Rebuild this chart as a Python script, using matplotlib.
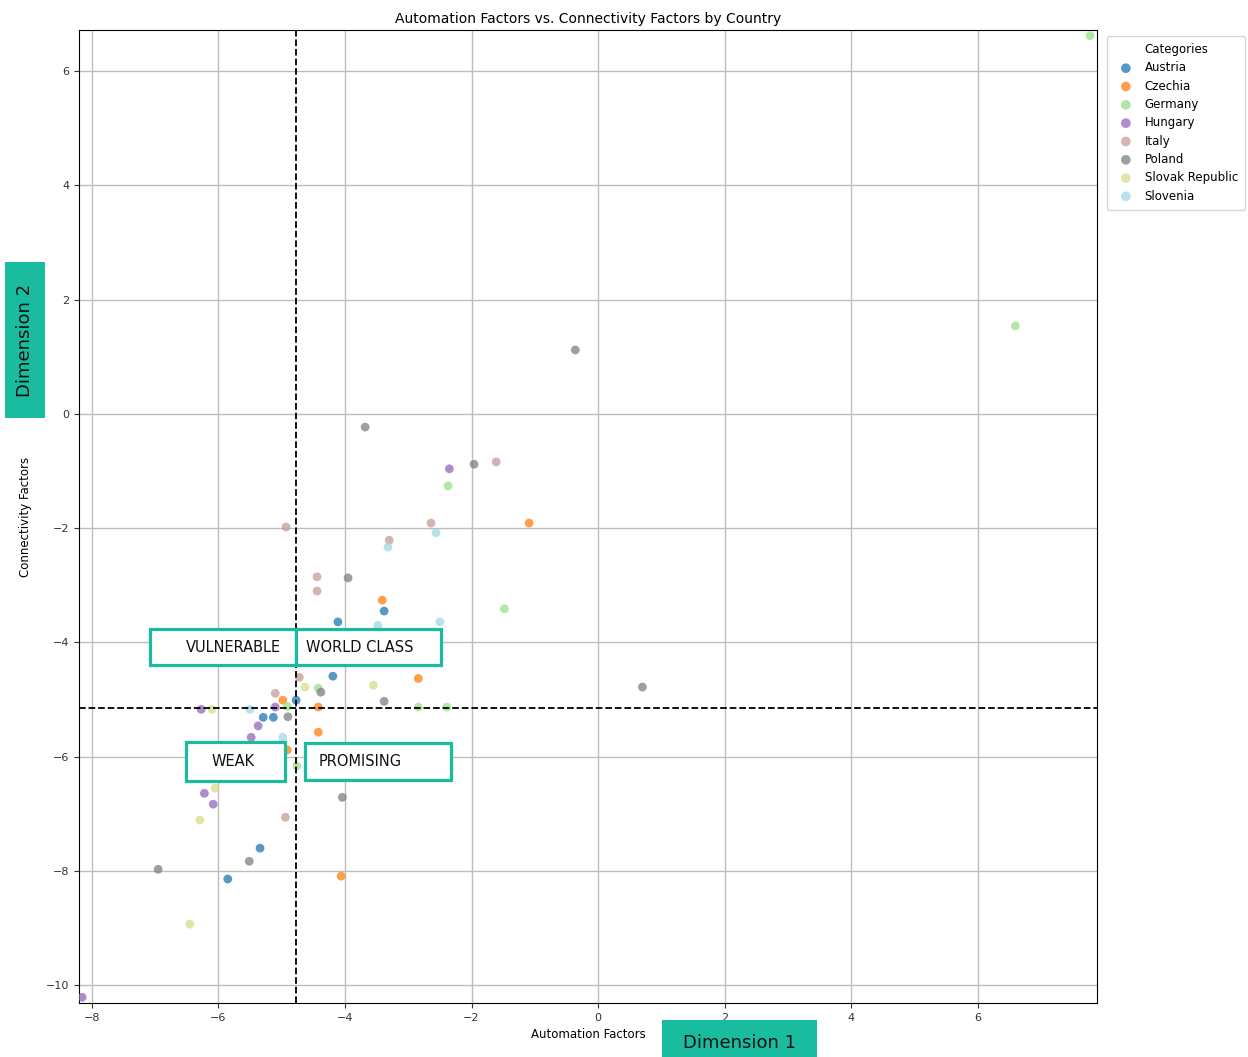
import numpy as np
import matplotlib
matplotlib.use("Agg")
import matplotlib.pyplot as plt
from matplotlib.patches import Rectangle

# -----------------------------
# DATA
# -----------------------------
countries = ["Austria", "Czechia", "Germany", "Hungary", "Italy",
             "Poland", "Slovak Republic", "Slovenia"]

austria_x = [-3.38, -4.11, -4.53, -4.19, -4.77, -5.29, -5.13, -5.97, -5.34, -5.85]
austria_y = [-3.45, -3.64, -4.26, -4.59, -5.01, -5.31, -5.31, -5.94, -7.60, -8.14]

czechia_x = [-1.09, -3.41, -2.84, -4.98, -4.42, -4.42, -4.91, -4.06, -4.82]
czechia_y = [-1.91, -3.26, -4.63, -5.01, -5.13, -5.57, -5.88, -8.09, -4.17]

germany_x = [7.77, 6.59, -2.37, -1.48, -4.42, -2.84, -2.39, -4.91, -4.76]
germany_y = [6.62, 1.54, -1.26, -3.41, -4.80, -5.13, -5.13, -5.12, -6.16]

hungary_x = [-2.35, -6.27, -5.10, -5.37, -5.48, -6.22, -6.08, -8.15]
hungary_y = [-0.96, -5.17, -5.13, -5.46, -5.66, -6.64, -6.83, -10.21]

italy_x = [-1.61, -4.93, -2.64, -3.30, -4.44, -4.44, -4.45, -5.10, -5.66, -4.94, -4.72]
italy_y = [-0.84, -1.98, -1.91, -2.21, -2.85, -3.10, -3.96, -4.89, -5.83, -7.06, -4.61]

poland_x = [-0.36, -3.68, -1.96, -3.95, 0.70, -4.38, -3.38, -4.90, -4.04, -5.51, -6.95]
poland_y = [1.12, -0.23, -0.88, -2.87, -4.78, -4.87, -5.03, -5.30, -6.71, -7.83, -7.97]

slovak_x = [-4.63, -3.55, -6.10, -5.42, -6.29, -6.45, -6.05, -5.92]
slovak_y = [-4.78, -4.75, -5.17, -5.85, -7.11, -8.93, -6.55, -6.35]

slovenia_x = [-2.56, -3.32, -2.50, -3.48, -5.50, -4.98]
slovenia_y = [-2.08, -2.33, -3.64, -3.70, -5.17, -5.66]

series_x = [austria_x, czechia_x, germany_x, hungary_x, italy_x, poland_x, slovak_x, slovenia_x]
series_y = [austria_y, czechia_y, germany_y, hungary_y, italy_y, poland_y, slovak_y, slovenia_y]

# quadrant split lines
x_split = -4.77
y_split = -5.15

# tab20 sampled at 8 even steps
colors = plt.get_cmap("tab20")(np.linspace(0, 1, 8))

# -----------------------------
# FIGURE
# -----------------------------
fig = plt.figure(figsize=(12.48, 10.57), dpi=100)
ax = fig.add_axes([0.0633, 0.0511, 0.8157, 0.9205])

for name, xs, ys, c in zip(countries, series_x, series_y, colors):
    ax.scatter(xs, ys, s=40, color=c, alpha=0.75, label=name, edgecolors="none", zorder=3)

ax.axvline(x_split, color="black", linestyle="--", linewidth=1.3, zorder=4)
ax.axhline(y_split, color="black", linestyle="--", linewidth=1.3, zorder=4)

ax.set_xlim(-8.2, 7.88)
ax.set_ylim(-10.31, 6.72)
ax.set_xticks(np.arange(-8, 7, 2))
ax.set_yticks(np.arange(-10, 7, 2))
ax.tick_params(labelsize=8, colors="#333333")
ax.grid(True, color="#bdbdbd", linewidth=1.0, zorder=0)
ax.set_axisbelow(True)

ax.set_title("Automation Factors vs. Connectivity Factors by Country", fontsize=10, pad=5)
ax.set_xlabel("Automation Factors", fontsize=8.5, labelpad=4)
ax.set_ylabel("Connectivity Factors", fontsize=8.5, labelpad=10)

leg = ax.legend(title="Categories", loc="upper left", bbox_to_anchor=(1.004, 1.0),
                fontsize=8.5, title_fontsize=8.5, markerscale=1.1, handletextpad=0.6,
                labelspacing=0.45, borderpad=0.6)

# -----------------------------
# annotation boxes (figure pixel layout)
# -----------------------------
W, H = 1248, 1057
teal = "#1abc9f"


def px_box(x0, y0, x1, y1, text, tx=None, fill=False, fs=10.5, rot=0):
    fx, fy = x0 / W, 1 - y1 / H
    fw, fh = (x1 - x0) / W, (y1 - y0) / H
    if fill:
        rect = Rectangle((fx, fy), fw, fh, transform=fig.transFigure,
                         facecolor=teal, edgecolor="none", zorder=10)
    else:
        rect = Rectangle((fx, fy), fw, fh, transform=fig.transFigure,
                         facecolor="white", edgecolor=teal, linewidth=2.3, zorder=10)
    fig.add_artist(rect)
    cx = fx + fw / 2 if tx is None else tx / W
    fig.text(cx, fy + fh / 2, text, ha="center", va="center",
             fontsize=fs, rotation=rot, color="#111111", zorder=11)


px_box(150, 629, 296, 665, "VULNERABLE", tx=233)
px_box(296, 629, 441, 665, "WORLD CLASS", tx=360)
px_box(186, 742, 285, 781, "WEAK", tx=233)
px_box(305, 743, 451, 780, "PROMISING", tx=360)

px_box(5, 262, 45, 418, "Dimension 2", fill=True, fs=13, rot=90)
px_box(662, 1020, 817, 1066, "Dimension 1", fill=True, fs=13)

fig.savefig("out.png", dpi=100)
